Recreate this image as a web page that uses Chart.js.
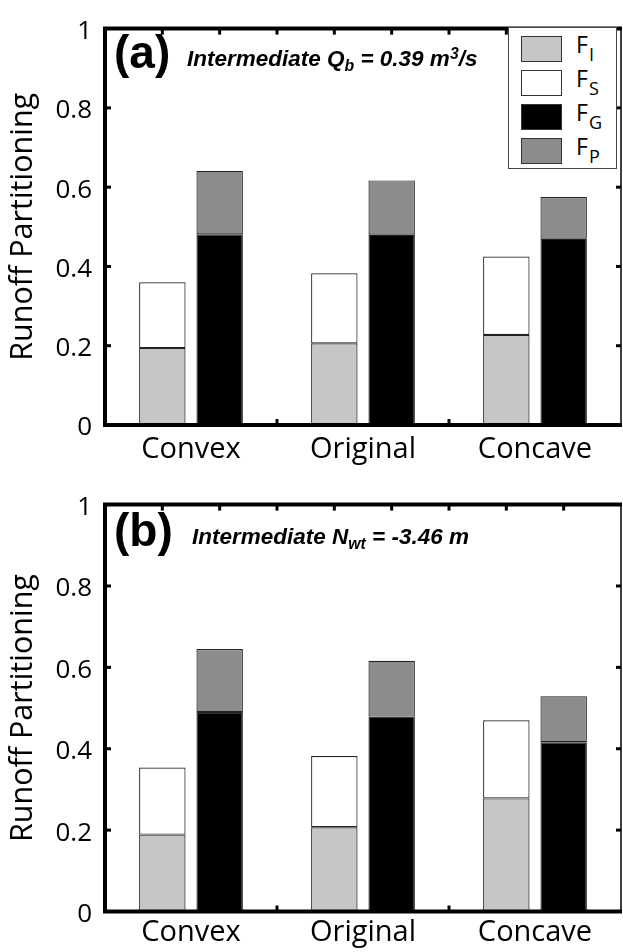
<!DOCTYPE html>
<html>
<head>
<meta charset="utf-8">
<script src="https://cdn.jsdelivr.net/npm/chart.js@4.4.1/dist/chart.umd.min.js"></script>
<style>
  html,body{margin:0;padding:0;background:#fff;}
  body{width:623px;height:952px;position:relative;overflow:hidden;}
  canvas{position:absolute;left:0;}
  .tag{position:absolute;font-family:'Liberation Sans',Arial,sans-serif;font-weight:bold;line-height:1;white-space:nowrap;color:#000;}
  .ann{position:absolute;font-family:'Liberation Sans',Arial,sans-serif;font-weight:bold;font-style:italic;line-height:1;white-space:nowrap;color:#000;}
  .ann sub,.ann sup{font-size:70%;line-height:0;vertical-align:baseline;position:relative;}
  .ann sub{top:0.3em;}
  .ann sup{top:-0.45em;}
  .legend{position:absolute;border:1px solid #444;background:#fff;box-sizing:border-box;}
  .legend .sw{position:absolute;border:1px solid #333;box-sizing:border-box;}
  .legend .lab{position:absolute;font-family:'Open Sans',sans-serif;font-size:23px;line-height:1;white-space:nowrap;color:#000;}
  .legend .lab sub{font-size:18px;line-height:0;vertical-align:baseline;position:relative;top:0.45em;margin-left:1px;}
</style>
</head>
<body>
<canvas id="cA" width="623" height="476" style="top:0px"></canvas>
<canvas id="cB" width="623" height="476" style="top:476px"></canvas>

<div class="tag" style="left:114px;top:29px;font-size:46px;">(a)</div>
<div class="ann" style="left:187px;top:48px;font-size:22.5px;">Intermediate Q<sub>b</sub> = 0.39 m<sup>3</sup>/s</div>

<div class="tag" style="left:114px;top:507px;font-size:46px;">(b)</div>
<div class="ann" style="left:192px;top:526px;font-size:22.5px;">Intermediate N<sub>wt</sub> = -3.46 m</div>

<div class="legend" id="legA" style="left:508px;top:27px;width:109px;height:142px;"></div>

<script>
// ---- data ----
const categories = ['Convex', 'Original', 'Concave'];
const yTicks = [0, 0.2, 0.4, 0.6, 0.8, 1];
const seriesNames = ['F_I', 'F_S', 'F_G', 'F_P'];

// Panel (a): Intermediate Qb = 0.39 m3/s
const fiA = [0.194, 0.206, 0.227];
const fsA = [0.166, 0.177, 0.198];
const fgA = [0.481, 0.480, 0.470];
const fpA = [0.160, 0.137, 0.105];

// Panel (b): Intermediate Nwt = -3.46 m
const fiB = [0.189, 0.207, 0.278];
const fsB = [0.165, 0.175, 0.192];
const fgB = [0.490, 0.479, 0.416];
const fpB = [0.155, 0.137, 0.113];

const colors = {F_I: '#c6c6c6', F_S: '#ffffff', F_G: '#000000', F_P: '#8c8c8c'};

// ---- frame plugin (axes box + inward ticks) ----
const framePlugin = {
  id: 'frame',
  afterDatasetsDraw(chart) {
    const {ctx, chartArea: {left, right, top, bottom}, scales: {x, y}} = chart;
    const seg = (x1, y1, x2, y2) => { ctx.beginPath(); ctx.moveTo(x1, y1); ctx.lineTo(x2, y2); ctx.stroke(); };
    ctx.save();
    ctx.strokeStyle = '#000';
    ctx.lineCap = 'butt';
    ctx.lineWidth = 1.5;
    seg(right, top, right, bottom);
    ctx.lineWidth = 4;
    ctx.beginPath();
    ctx.moveTo(right + 1, top); ctx.lineTo(left, top); ctx.lineTo(left, bottom); ctx.lineTo(right + 1, bottom);
    ctx.stroke();
    ctx.lineWidth = 3;
    yTicks.slice(1, -1).forEach(v => {
      const py = y.getPixelForValue(v);
      seg(left, py, left + 6, py);
      seg(right, py, right - 5, py);
    });
    const c0 = x.getPixelForValue(0), c1 = x.getPixelForValue(1);
    const cw = c1 - c0;
    for (let i = 1; i < categories.length; i++) {
      const px = (x.getPixelForValue(i - 1) + x.getPixelForValue(i)) / 2;
      seg(px, bottom, px, bottom - 6);
    }
    for (let k = 1; k < categories.length * 3; k++) {
      const px = left + k * cw / 3;
      seg(px, top, px, top + 6);
    }
    ctx.restore();
  }
};

function makePanel(id, fi, fs, fg, fp, padTop, xAxisH, xPad) {
  const mk = (label, data, stack) => ({
    label, data, stack,
    backgroundColor: colors[label],
    borderColor: '#222',
    borderWidth: 1.2,
    borderSkipped: false,
    categoryPercentage: 2 / 3,
    barPercentage: 0.81
  });
  return new Chart(document.getElementById(id), {
    type: 'bar',
    data: {
      labels: categories,
      datasets: [
        mk('F_I', fi, 'left'),
        mk('F_S', fs, 'left'),
        mk('F_G', fg, 'right'),
        mk('F_P', fp, 'right')
      ]
    },
    options: {
      responsive: false,
      animation: false,
      devicePixelRatio: 1,
      layout: {padding: {top: padTop, right: 2, left: 0, bottom: 0}},
      plugins: {legend: {display: false}, tooltip: {enabled: false}},
      scales: {
        x: {
          stacked: true,
          grid: {display: false, drawTicks: false},
          border: {display: false},
          ticks: {color: '#000', font: {family: 'Open Sans', size: 29}, padding: xPad, maxRotation: 0},
          afterFit(s) { s.height = xAxisH; }
        },
        y: {
          stacked: true,
          min: 0, max: 1,
          afterBuildTicks(s) { s.ticks = yTicks.map(v => ({value: v})); },
          grid: {display: false, drawTicks: false},
          border: {display: false},
          ticks: {color: '#000', font: {family: 'Open Sans', size: 26}, padding: 13, labelOffset: 3,
                  callback: v => String(+v.toFixed(1))},
          title: {display: true, text: 'Runoff Partitioning', color: '#000',
                  font: {family: 'Open Sans', size: 30.5}, padding: {top: 5, bottom: 0}},
          afterFit(s) { s.width = 105; }
        }
      }
    },
    plugins: [framePlugin]
  });
}

makePanel('cA', fiA, fsA, fgA, fpA, 16.5, 51, 7);
makePanel('cB', fiB, fsB, fgB, fpB, 26, 40.5, 4);

// ---- legend (HTML, built from series names/colours) ----
const leg = document.getElementById('legA');
seriesNames.forEach((name, i) => {
  const [base, sub] = name.split('_');
  const top = 8 + i * 34;
  const sw = document.createElement('div');
  sw.className = 'sw';
  sw.style.cssText = `left:12px;top:${top}px;width:41px;height:26px;background:${colors[name]};`;
  leg.appendChild(sw);
  const lab = document.createElement('div');
  lab.className = 'lab';
  lab.style.cssText = `left:67px;top:${top - 3}px;`;
  lab.innerHTML = `${base}<sub>${sub}</sub>`;
  leg.appendChild(lab);
});
</script>
</body>
</html>
